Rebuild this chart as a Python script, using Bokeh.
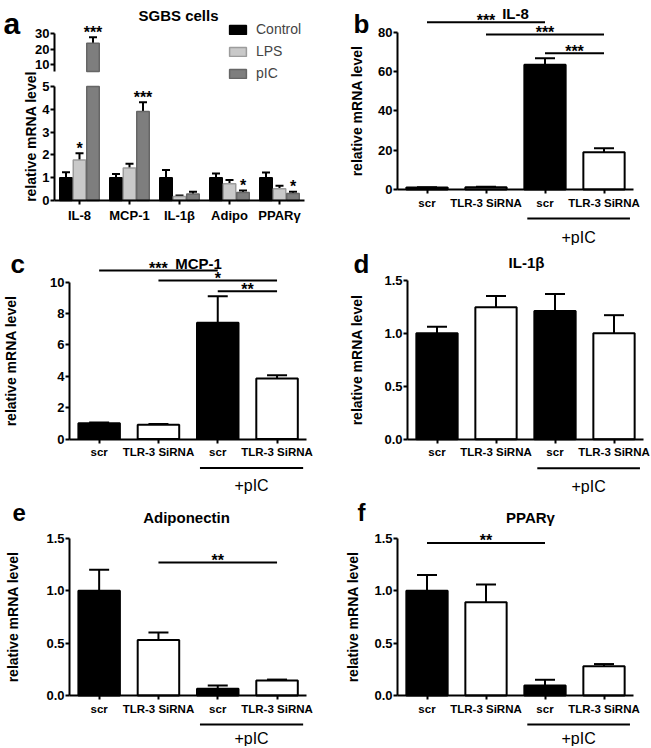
import math
from bokeh.plotting import figure
from bokeh.models import (Range1d, LinearAxis, FixedTicker, Whisker, TeeHead,
                          ColumnDataSource, Label, NumeralTickFormatter)
from bokeh.layouts import row, column
from bokeh.embed import file_html
from bokeh.resources import INLINE
from bokeh.core.properties import value

FONT = "Liberation Sans"

# ---------------- data ----------------
genes_a = ["IL-8", "MCP-1", "IL-1β", "Adipo", "PPARγ"]
control_a = [1.0, 1.0, 1.0, 1.0, 1.0]
control_err_a = [0.24, 0.16, 0.34, 0.18, 0.23]
lps_a = [1.78, 1.42, 0.18, 0.73, 0.52]
lps_err_a = [0.29, 0.19, 0.04, 0.17, 0.13]
pic_a = [23.9, 3.9, 0.29, 0.35, 0.31]
pic_err_a = [3.9, 0.41, 0.09, 0.09, 0.07]
stars_a = [("LPS", 0, "*"), ("pIC", 0, "***"), ("pIC", 1, "***"),
           ("pIC", 3, "*"), ("pIC", 4, "*")]

conditions = ["scr", "TLR-3 SiRNA", "scr", "TLR-3 SiRNA"]
bar_fill = ["black", "white", "black", "white"]

il8_b = [1.0, 1.2, 63.4, 19.0]
il8_err_b = [0.2, 0.2, 3.4, 2.0]
sig_b = [(1, 3, "***"), (2, 4, "***"), (3, 4, "***")]
sig_level_b = [85.1, 78.8, 69.3]

mcp1_c = [1.0, 0.9, 7.4, 3.85]
mcp1_err_c = [0.05, 0.05, 1.7, 0.21]
sig_c = [(1, 3, "***"), (2, 4, "*"), (3, 4, "**")]
sig_level_c = [10.73, 10.1, 9.41]

il1b_d = [1.0, 1.245, 1.21, 1.0]
il1b_err_d = [0.06, 0.105, 0.16, 0.17]
sig_d = []
sig_level_d = []

adipo_e = [1.0, 0.53, 0.064, 0.143]
adipo_err_e = [0.2, 0.07, 0.031, 0.009]
sig_e = [(2, 4, "**")]
sig_level_e = [1.27]

pparg_f = [1.0, 0.89, 0.095, 0.28]
pparg_err_f = [0.15, 0.17, 0.055, 0.02]
sig_f = [(1, 3, "**")]
sig_level_f = [1.456]

# ---------------- geometry helpers ----------------
class Geo:
    def __init__(self, w, h, ax_px, xs, zero_px, ys, axis_x=0.5):
        self.w, self.h, self.xs, self.ys = w, h, xs, ys
        self.x0 = axis_x - ax_px / xs
        self.x1 = self.x0 + w / xs
        self.y1 = zero_px / ys
        self.y0 = self.y1 - h / ys

    def x(self, px):
        return self.x0 + px / self.xs

    def y(self, py):
        return self.y1 - py / self.ys


def base_fig(g):
    p = figure(width=g.w, height=g.h, x_range=Range1d(g.x0, g.x1),
               y_range=Range1d(g.y0, g.y1), output_backend="svg",
               toolbar_location=None, x_axis_type=None, y_axis_type=None,
               min_border=0)
    p.outline_line_color = None
    p.background_fill_color = "white"
    return p


def style_axis(ax, size, tick_out=5, standoff=3):
    ax.axis_line_width = 2
    ax.axis_line_color = "black"
    ax.major_tick_line_width = 2
    ax.major_tick_line_color = "black"
    ax.major_tick_out = tick_out
    ax.major_tick_in = 0
    ax.minor_tick_line_color = None
    ax.major_label_text_font = FONT
    ax.major_label_text_font_style = "bold"
    ax.major_label_text_font_size = size
    ax.major_label_text_color = "black"
    ax.major_label_standoff = standoff


def add_y_axis(p, bounds, ticks, fmt=None, label=None, standoff=8, range_name=None):
    kw = {}
    if range_name:
        kw["y_range_name"] = range_name
    ax = LinearAxis(fixed_location=0.5, bounds=bounds,
                    ticker=FixedTicker(ticks=ticks), **kw)
    style_axis(ax, "13px", tick_out=4, standoff=1)
    if fmt:
        ax.formatter = NumeralTickFormatter(format=fmt)
    if label:
        ax.axis_label = label
        ax.axis_label_text_font = FONT
        ax.axis_label_text_font_style = "bold"
        ax.axis_label_text_font_size = "14px"
        ax.axis_label_text_color = "black"
        ax.axis_label_standoff = standoff
    p.add_layout(ax, "left")
    return ax


def add_x_axis(p, labels, size):
    n = len(labels)
    ax = LinearAxis(fixed_location=0, bounds=(0.5, n + 0.5),
                    ticker=FixedTicker(ticks=list(range(1, n + 1))),
                    major_label_overrides={i + 1: lab for i, lab in enumerate(labels)})
    style_axis(ax, size, tick_out=4, standoff=3)
    p.add_layout(ax, "below")
    return ax


def add_label(p, x, y, text, size, bold=True, align="center", baseline="alphabetic", angle=0):
    p.add_layout(Label(x=x, y=y, text=text, text_font=FONT, text_font_size=size,
                       text_font_style="bold" if bold else "normal",
                       text_align=align, text_baseline=baseline, angle=angle,
                       text_color="black"))


STAR_SIZE = "16px"


def sig_panel(g, title, title_px, letter, letter_px, letter_size, vals, errs,
              sigs, levels, ymax, yticks, fmt, standoff, pic_dy):
    p = base_fig(g)
    xs = list(range(1, len(vals) + 1))
    src = ColumnDataSource(dict(x=xs, top=vals,
                                upper=[v + e for v, e in zip(vals, errs)],
                                fill=bar_fill))
    p.add_layout(Whisker(source=src, base="x", lower="top", upper="upper",
                         line_width=2, line_color="black", lower_head=None,
                         upper_head=TeeHead(size=20, line_width=2, line_color="black")))
    p.vbar(x="x", top="top", bottom=0, width=0.7, fill_color="fill",
           line_color="black", line_width=2, source=src)
    add_y_axis(p, (0, ymax), yticks, fmt=fmt, label="relative mRNA level", standoff=standoff)
    add_x_axis(p, conditions, "11.5px")
    # significance brackets
    if sigs:
        bx0 = [s[0] for s in sigs]
        bx1 = [s[1] for s in sigs]
        p.segment(x0=bx0, y0=levels, x1=bx1, y1=levels, line_width=2, line_color="black")
        p.text(x=[(a + b) / 2 for a, b in zip(bx0, bx1)],
               y=[l + 2 / g.ys for l in levels], text=[s[2] for s in sigs],
               text_font=value(FONT), text_font_size=STAR_SIZE, text_font_style="bold",
               text_align="center", text_baseline="alphabetic", text_color="black")
    # +pIC group marker
    zero_px = g.y1 * g.ys
    y_line = g.y(zero_px + 29)
    p.segment(x0=[2.7], y0=[y_line], x1=[4.44], y1=[y_line], line_width=2, line_color="black")
    add_label(p, 3.57, g.y(zero_px + pic_dy), "+pIC", "16px", bold=False, baseline="middle")
    add_label(p, g.x(title_px[0]), g.y(title_px[1]), title, "15px")
    add_label(p, g.x(letter_px[0]), g.y(letter_px[1]), letter, letter_size, align="left")
    return p


# ---------------- layout sizes ----------------
W_L, W_R = 326, 324
H1, H2, H3 = 245, 249, 252
R0 = W_L            # reference x where the right column starts
T2 = H1             # reference y where row 2 starts
T3 = H1 + H2        # reference y where row 3 starts

# ---------------- panel a ----------------
ga = Geo(W_L, H1, 54, 50, 200, 22.8)
LOWER_MAX = 5
UPPER_BOTTOM = 5.44
up_scale = 1.535
up_ten_px = 64
up_end = 10 + up_ten_px / up_scale
up_start = 10 - (H1 - up_ten_px) / up_scale

pa = base_fig(ga)
pa.extra_y_ranges = {"upper": Range1d(up_start, up_end)}
offsets = {"Control": -0.27, "LPS": 0.0, "pIC": 0.27}
series = {"Control": (control_a, control_err_a, "black", "black"),
          "LPS": (lps_a, lps_err_a, "#c9c9c9", "#9c9c9c"),
          "pIC": (pic_a, pic_err_a, "#7e7e7e", "#666666")}
for name, (vals, errs, fill, line) in series.items():
    xs = [i + 1 + offsets[name] for i in range(len(vals))]
    low = [(x, v, e) for x, v, e in zip(xs, vals, errs) if v <= LOWER_MAX]
    src_low = ColumnDataSource(dict(x=[t[0] for t in low], top=[t[1] for t in low],
                                    upper=[t[1] + t[2] for t in low]))
    pa.add_layout(Whisker(source=src_low, base="x", lower="top", upper="upper",
                          line_width=2, line_color="black", lower_head=None,
                          upper_head=TeeHead(size=8, line_width=2, line_color="black")))
    src_all = ColumnDataSource(dict(x=xs, top=[min(v, LOWER_MAX) for v in vals]))
    pa.vbar(x="x", top="top", bottom=0, width=0.25, fill_color=fill, line_color=line,
            line_width=1.5, source=src_all, legend_label=name)
    high = [(x, v, e) for x, v, e in zip(xs, vals, errs) if v > LOWER_MAX]
    if high:
        src_hi = ColumnDataSource(dict(x=[t[0] for t in high], top=[t[1] for t in high],
                                       upper=[t[1] + t[2] for t in high]))
        pa.add_layout(Whisker(source=src_hi, base="x", lower="top", upper="upper",
                              y_range_name="upper", line_width=2, line_color="black",
                              lower_head=None,
                              upper_head=TeeHead(size=8, line_width=2, line_color="black")))
        pa.vbar(x="x", top="top", bottom=UPPER_BOTTOM, width=0.25, fill_color=fill,
                line_color=line, line_width=1.5, source=src_hi, y_range_name="upper")

add_y_axis(pa, (0, LOWER_MAX), [0, 1, 2, 3, 4, 5])
add_y_axis(pa, (UPPER_BOTTOM, 30), [10, 20, 30], range_name="upper")
add_x_axis(pa, genes_a, "13px")

# stars panel a
st_lo_x, st_lo_y, st_lo_t, st_hi_x, st_hi_y, st_hi_t = [], [], [], [], [], []
for name, idx, txt in stars_a:
    vals, errs = series[name][0], series[name][1]
    top = vals[idx] + errs[idx]
    x = idx + 1 + offsets[name]
    if vals[idx] > LOWER_MAX:
        st_hi_x.append(x); st_hi_y.append(top + 5 / up_scale); st_hi_t.append(txt)
    else:
        st_lo_x.append(x); st_lo_y.append(top + 5 / ga.ys); st_lo_t.append(txt)
star_kw = dict(text_font=value(FONT), text_font_size=STAR_SIZE, text_font_style="bold",
               text_align="center", text_baseline="alphabetic", text_color="black")
pa.text(x=st_lo_x, y=st_lo_y, text=st_lo_t, **star_kw)
pa.text(x=st_hi_x, y=st_hi_y, text=st_hi_t, y_range_name="upper", **star_kw)

add_label(pa, ga.x(30), ga.y(136), "relative mRNA level", "14px", baseline="middle",
          angle=math.pi / 2)
add_label(pa, ga.x(178), ga.y(15), "SGBS cells", "15px")
add_label(pa, ga.x(3), ga.y(23), "a", "30px", align="left")

lg = pa.legend[0]
lg.location = (227, H1 - 81)
lg.border_line_color = None
lg.background_fill_alpha = 0
lg.glyph_width = 21
lg.glyph_height = 11
lg.label_height = 14
lg.spacing = 6
lg.padding = 0
lg.margin = 0
lg.label_standoff = 8
lg.label_text_font = FONT
lg.label_text_font_size = "14px"

# ---------------- panels b-f ----------------
gb = Geo(W_R, H1, 397 - R0, 59, 189, 1.966)
pb = sig_panel(gb, "IL-8", (515 - R0, 13), "b", (353 - R0, 23), "26px", il8_b, il8_err_b,
               sig_b, sig_level_b, 80, [0, 20, 40, 60, 80], None, 10, 48)

gc = Geo(W_L, H2, 69, 59.3, 438.5 - T2, 15.7)
pc = sig_panel(gc, "MCP-1", (198, 263 - T2), "c", (10, 263 - T2), "26px", mcp1_c, mcp1_err_c,
               sig_c, sig_level_c, 10, [0, 2, 4, 6, 8, 10], None, 28, 46)

gd = Geo(W_R, H2, 407 - R0, 59, 438.7 - T2, 106)
pd_ = sig_panel(gd, "IL-1β", (526 - R0, 262 - T2), "d", (353 - R0, 263 - T2), "26px",
                il1b_d, il1b_err_d, sig_d, sig_level_d, 1.5, [0, 0.5, 1.0, 1.5], "0.0", 16, 47)

ge = Geo(W_L, H3, 69, 59.3, 695 - T3, 104.8)
pe = sig_panel(ge, "Adiponectin", (186, 517 - T3), "e", (12, 512 - T3), "24px",
               adipo_e, adipo_err_e, sig_e, sig_level_e, 1.5, [0, 0.5, 1.0, 1.5], "0.0", 22, 43)

gf = Geo(W_R, H3, 397 - R0, 59, 695 - T3, 104.8)
pf = sig_panel(gf, "PPARγ", (530 - R0, 517 - T3), "f", (357 - R0, 512 - T3), "24px",
               pparg_f, pparg_err_f, sig_f, sig_level_f, 1.5, [0, 0.5, 1.0, 1.5], "0.0", 10, 43)

layout = column(row(pa, pb), row(pc, pd_), row(pe, pf))
open("out.html", "w").write(file_html(layout, INLINE))
